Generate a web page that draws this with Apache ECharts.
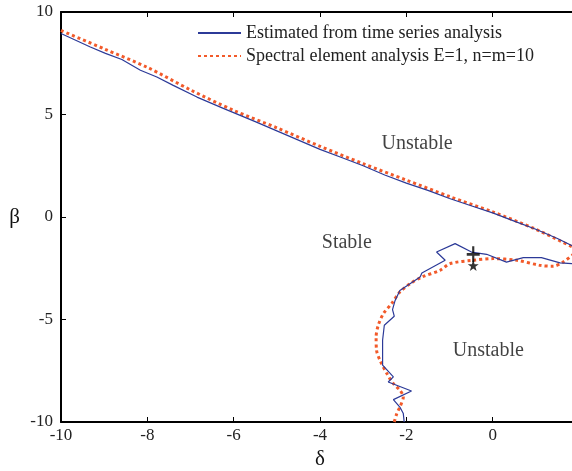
<!DOCTYPE html>
<html>
<head>
<meta charset="utf-8">
<script src="https://cdn.jsdelivr.net/npm/echarts@6/dist/echarts.min.js"></script>
<style>html,body{margin:0;padding:0;background:#fff}#c{width:572px;height:471px}</style>
</head>
<body>
<div id="c"></div>
<script>
// x ticks / y ticks
const xTicks = [-10, -8, -6, -4, -2, 0, 2];
const yTicks = [-10, -5, 0, 5, 10];

// Estimated from time series analysis: upper boundary [delta, beta]
const blueUpper = [[-10,8.95],[-9.32,8.29],[-8.97,7.98],[-8.59,7.68],[-8.16,7.16],[-7.78,6.83],[-7.4,6.42],[-6.85,5.85],[-6.24,5.3],[-5.5,4.65],[-5,4.2],[-4.5,3.75],[-4,3.3],[-3.5,2.9],[-3,2.5],[-2.5,2.05],[-2,1.65],[-1.5,1.3],[-1,0.9],[-0.5,0.55],[0,0.2],[0.5,-0.2],[1,-0.6],[1.5,-1.05],[1.84,-1.4],[2,-1.55]];
// Estimated from time series analysis: lower boundary [delta, beta]
const blueLower = [[-2.05,-10],[-2.07,-9.59],[-2.15,-9.27],[-2.3,-8.91],[-1.88,-8.49],[-2.42,-8.05],[-2.3,-7.8],[-2.55,-7.23],[-2.55,-6.01],[-2.51,-5.28],[-2.28,-4.84],[-2.32,-4.52],[-2.26,-4.07],[-2.15,-3.58],[-1.68,-2.93],[-1.64,-2.73],[-1.1,-2.11],[-1.3,-1.71],[-0.87,-1.3],[-0.49,-1.71],[-0.14,-1.82],[0.32,-2.2],[0.71,-1.98],[1.13,-1.98],[1.56,-2.24],[1.84,-2.27],[2,-2.28]];
// Spectral element analysis: upper boundary
const redUpper = [[-10,9.1],[-9,8.2],[-8,7.3],[-7,6.2],[-6,5.2],[-5,4.35],[-4,3.45],[-3,2.6],[-2,1.8],[-1,1.0],[0,0.25],[1,-0.6],[1.84,-1.45],[2,-1.6]];
// Spectral element analysis: lower boundary
const redLower = [[-2.28,-10],[-2.22,-9.59],[-2.15,-9.27],[-2.07,-8.78],[-2.15,-8.45],[-2.3,-8.13],[-2.45,-7.64],[-2.61,-6.99],[-2.69,-6.5],[-2.7,-5.85],[-2.65,-5.28],[-2.53,-4.71],[-2.34,-4.22],[-2.15,-3.66],[-1.91,-3.25],[-1.64,-2.93],[-1.22,-2.6],[-0.98,-2.27],[-0.45,-2.11],[0.01,-2.03],[0.56,-2.11],[1.1,-2.36],[1.4,-2.4],[1.63,-2.2],[1.84,-1.87],[2,-1.6]];
// Markers
const plusPoint = [[-0.45, -1.82]];
const starPoint = [[-0.45, -2.36]];
// Region annotations
const regionLabels = [
  {name: 'Unstable', value: [-1.75, 3.59]},
  {name: 'Stable', value: [-3.38, -1.24]},
  {name: 'Unstable', value: [-0.1, -6.5]}
];
const legendNames = ['Estimated from time series analysis', 'Spectral element analysis E=1, n=m=10'];

const BLUE = '#2c3a98';
const RED = '#f25a2a';
const FONT = '"Liberation Serif", "DejaVu Serif", serif';

const chart = echarts.init(document.getElementById('c'), null, {renderer: 'canvas'});
const option = {
  animation: false,
  backgroundColor: '#fff',
  textStyle: {fontFamily: FONT},
  grid: {left: 61, top: 12, width: 518, height: 410, show: false, containLabel: false, outerBoundsMode: 'none'},
  legend: {
    orient: 'vertical', left: 192, top: 19, itemWidth: 43, itemHeight: 14, itemGap: 5,
    data: legendNames, textStyle: {fontFamily: FONT, fontSize: 18, color: '#222'},
    itemStyle: {opacity: 0}
  },
  xAxis: [{
    type: 'value', min: xTicks[0], max: xTicks[xTicks.length - 1], interval: 2,
    name: 'δ', nameLocation: 'middle', nameGap: 27,
    nameTextStyle: {fontFamily: FONT, fontSize: 21, color: '#111'},
    axisLine: {onZero: false, lineStyle: {color: '#000', width: 2}},
    axisTick: {inside: true, length: 5, lineStyle: {color: '#000', width: 1}},
    axisLabel: {fontFamily: FONT, fontSize: 17, color: '#222', margin: 5},
    splitLine: {show: false}
  }, {
    type: 'value', position: 'top', min: xTicks[0], max: xTicks[xTicks.length - 1], interval: 2,
    axisLine: {onZero: false, lineStyle: {color: '#000', width: 2}},
    axisTick: {inside: true, length: 5, lineStyle: {color: '#000', width: 1}},
    axisLabel: {show: false}, splitLine: {show: false}
  }],
  yAxis: [{
    type: 'value', min: yTicks[0], max: yTicks[yTicks.length - 1], interval: 5,
    name: 'β', nameLocation: 'middle', nameGap: 41, nameRotate: 0,
    nameTextStyle: {fontFamily: FONT, fontSize: 21, color: '#111'},
    axisLine: {onZero: false, lineStyle: {color: '#000', width: 2}},
    axisTick: {inside: true, length: 5, lineStyle: {color: '#000', width: 1}},
    axisLabel: {fontFamily: FONT, fontSize: 17, color: '#222', margin: 8},
    splitLine: {show: false}
  }],
  series: [
    {name: legendNames[0], type: 'line', data: blueUpper, symbol: 'none', clip: true,
     lineStyle: {color: BLUE, width: 1.2}, itemStyle: {color: BLUE}, z: 3},
    {name: legendNames[0], type: 'line', data: blueLower, symbol: 'none', clip: true,
     lineStyle: {color: BLUE, width: 1.2}, itemStyle: {color: BLUE}, z: 3},
    {name: legendNames[1], type: 'line', data: redUpper, symbol: 'none', smooth: 0.3, clip: true,
     lineStyle: {color: RED, width: 3, type: [3, 3], cap: 'butt'}, itemStyle: {color: RED}, z: 2},
    {name: legendNames[1], type: 'line', data: redLower, symbol: 'none', smooth: 0.3, clip: true,
     lineStyle: {color: RED, width: 3, type: [3, 3], cap: 'butt'}, itemStyle: {color: RED}, z: 2},
    {type: 'scatter', data: plusPoint, symbol: 'path://M5,0 L7,0 L7,5 L12,5 L12,7 L7,7 L7,12 L5,12 L5,7 L0,7 L0,5 L5,5 Z',
     symbolSize: [13, 16], itemStyle: {color: '#000'}, z: 5},
    {type: 'scatter', data: starPoint, symbol: 'path://M50,0 L61.8,35.1 L98.1,35.1 L68.8,56.8 L79.4,90.5 L50,70 L20.6,90.5 L31.2,56.8 L1.9,35.1 L38.2,35.1 Z',
     symbolSize: 11, itemStyle: {color: '#000'}, z: 5},
    {type: 'scatter', data: regionLabels, symbolSize: 0, silent: true,
     label: {show: true, position: 'inside', formatter: p => p.name, fontFamily: FONT, fontSize: 20, color: '#111'}, z: 6}
  ]
};
chart.setOption(option);
</script>
</body>
</html>
